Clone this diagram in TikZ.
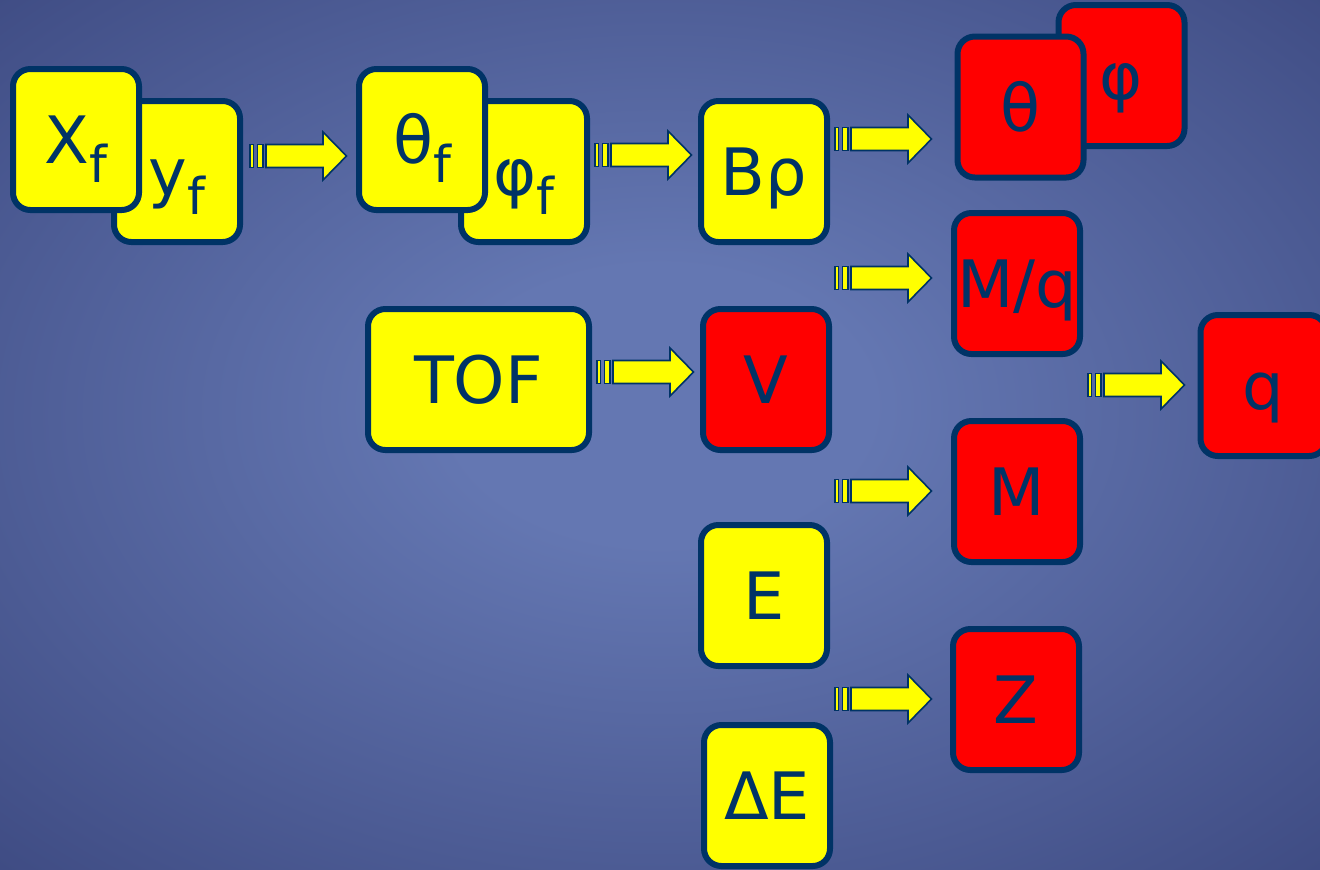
\documentclass[tikz,border=0pt]{standalone}
\usepackage{fontspec}
\setmainfont{DejaVu Sans}
\definecolor{navy}{RGB}{0,51,102}
\definecolor{boxyellow}{RGB}{255,255,0}
\definecolor{boxred}{RGB}{255,0,0}
\definecolor{bglight}{RGB}{100,119,178}
\definecolor{bgdark}{RGB}{44,54,108}
\pgfdeclareradialshading{slidebg}{\pgfpoint{0bp}{2bp}}{color(0bp)=(bglight); color(8bp)=(bglight); color(50bp)=(bgdark)}
\newcommand\fsub{\raisebox{-14pt}{\fontsize{38}{38}\selectfont f}}
\tikzset{
  box/.style={draw=navy, line width=4.5pt, rounded corners=13pt,
    minimum width=94.5pt, minimum height=105.75pt, inner sep=0pt,
    text=navy, font=\fontsize{49}{55}\selectfont, text height=36pt, text depth=0pt},
  ybox/.style={box, fill=boxyellow},
  rbox/.style={box, fill=boxred},
  stripe/.style={fill=boxyellow, draw=navy, line width=1.2pt},
  stripearrow/.pic={
    \filldraw[stripe] (0,-11.5) rectangle (3.3,11.5);
    \filldraw[stripe] (7.3,-11.5) rectangle (12.7,11.5);
    \filldraw[stripe] (16,-11.5) -- (73,-11.5) -- (73,-24) -- (96.5,0)
      -- (73,24) -- (73,11.5) -- (16,11.5) -- cycle;
  }
}
\begin{document}
\begin{tikzpicture}[x=0.75pt,y=-0.75pt]
  \useasboundingbox (0,0) rectangle (1320,869);
  \shade[shading=slidebg] (0,0) rectangle (1320,869); % background
  % first row
  \node[ybox] (yf) at (177,171.5) {y\fsub};
  \node[ybox] (xf) at (76,139.5) {X\fsub};
  \node[ybox] (phf) at (524,171.5) {φ\fsub};
  \node[ybox] (thf) at (422,139.5) {θ\fsub};
  \node[ybox] (brho) at (764,171.5) {Bρ};
  \node[rbox] (ph) at (1121.5,75.5) {φ};
  \node[rbox] (th) at (1020.5,107) {θ};
  % lower part
  \node[rbox] (mq) at (1017,283.5) {M/q};
  \node[ybox, minimum width=165.75pt] (tof) at (478.5,379.5) {TOF};
  \node[rbox] (v) at (766,379.5) {V};
  \node[rbox] (q) at (1263.5,385.5) {q};
  \node[rbox] (m) at (1017,491.5) {M};
  \node[ybox] (e) at (764,595.5) {E};
  \node[rbox] (z) at (1016,699.5) {Z};
  \node[ybox] (de) at (767,795.5) {ΔE};
  % arrows
  \foreach \x/\y in {250/156, 595/155, 835/139, 835/278, 597/372, 835/491, 835/699, 1088/385}{
    \pic at (\x,\y) {stripearrow};
  }
\end{tikzpicture}
\end{document}
